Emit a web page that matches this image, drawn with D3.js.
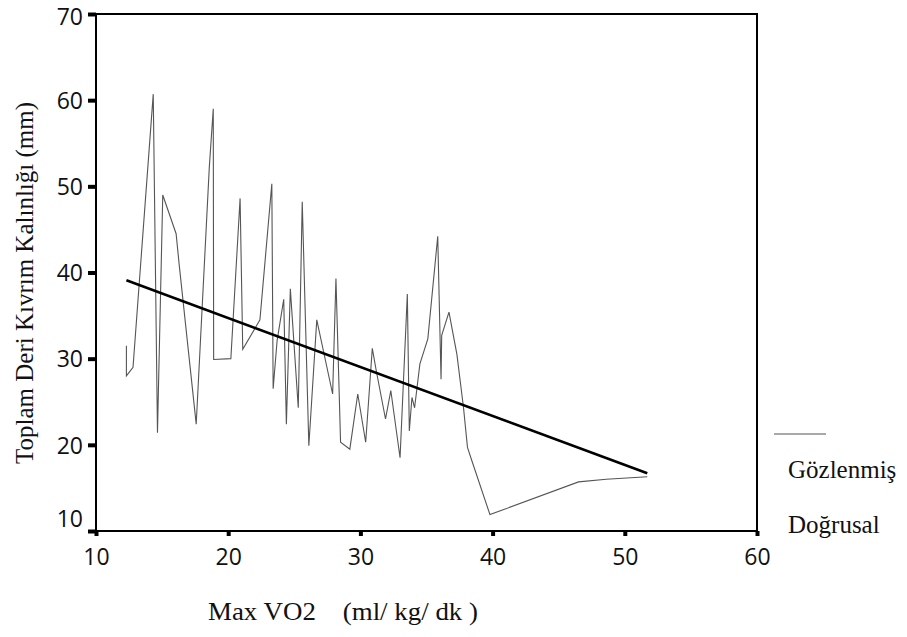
<!DOCTYPE html>
<html lang="tr">
<head>
  <meta charset="UTF-8">
  <title>Max VO2 - Toplam Deri Kıvrım Kalınlığı</title>
  <script src="https://d3js.org/d3.v7.min.js"></script>
  <style>
    body { margin: 0; background: #fff; }
    svg text.tick-label { font-family: "Open Sans", sans-serif; font-size: 23px; fill: #111; }
    svg text.title { font-family: "Liberation Serif", "Times New Roman", serif; font-size: 25px; fill: #111; white-space: pre; }
  </style>
</head>
<body>
  <svg id="chart" width="907" height="637"></svg>

  <script>
    // Gözlenmiş (observed), points in x order
    const obsX = [12.3, 12.3, 12.8, 14.33, 14.65, 15.05, 16.06, 16.3, 17.58, 18.57, 18.87, 18.9, 20.2,
                  20.9, 21.1, 22.4, 23.3, 23.4, 23.7, 24.2, 24.4, 24.7, 25.3, 25.6, 26.1, 26.7, 27.9,
                  28.15, 28.5, 29.2, 29.8, 30.4, 30.9, 31.2, 31.9, 32.3, 33.0, 33.55, 33.7, 33.9, 34.1,
                  34.5, 35.1, 35.85, 36.1, 36.15, 36.7, 37.3, 37.8, 38.1, 38.4, 39.8, 46.5, 48.6, 51.7];
    const obsY = [31.5, 28.0, 29.0, 60.7, 21.4, 49.0, 44.5, 40.8, 22.4, 52.2, 59.0, 29.9, 30.0,
                  48.6, 31.1, 34.5, 50.3, 26.5, 32.1, 36.9, 22.4, 38.1, 24.3, 48.2, 19.9, 34.5, 25.9,
                  39.3, 20.3, 19.5, 25.9, 20.3, 31.2, 28.6, 23.0, 26.3, 18.5, 37.5, 21.6, 25.5, 24.3,
                  29.4, 32.3, 44.2, 27.6, 32.7, 35.4, 30.5, 24.3, 19.7, 18.3, 11.9, 15.7, 16.0, 16.3];

    // Doğrusal (linear fit) endpoints
    const linX = [12.3, 51.7];
    const linY = [39.1, 16.7];

    const xTicks = [10, 20, 30, 40, 50, 60];
    const yTicks = [10, 20, 30, 40, 50, 60, 70];
    const legendLabels = ["Gözlenmiş", "Doğrusal"];

    const svg = d3.select("#chart");
    const margin = { left: 96, top: 14 };
    const width = 661, height = 517;

    const x = d3.scaleLinear().domain([10, 60]).range([margin.left, margin.left + width]);
    const y = d3.scaleLinear().domain([10, 70]).range([margin.top + height, margin.top]);

    // frame
    svg.append("rect")
      .attr("x", x(10)).attr("y", y(70))
      .attr("width", width).attr("height", height)
      .attr("fill", "none").attr("stroke", "#000").attr("stroke-width", 2);

    // x axis
    const xAxis = svg.append("g").attr("transform", `translate(0,${y(10)})`)
      .call(d3.axisBottom(x).tickValues(xTicks).tickSize(5).tickFormat(d3.format("d")));
    xAxis.select(".domain").remove();
    xAxis.selectAll(".tick line").attr("stroke", "#000").attr("stroke-width", 4);
    xAxis.selectAll(".tick text").attr("class", "tick-label").attr("y", 34).attr("dy", null)
      .attr("font-size", null).attr("font-family", null);

    // y axis (bottom label lifted, top label nudged down, as in the scan)
    const yAxis = svg.append("g").attr("transform", `translate(${x(10)},0)`)
      .call(d3.axisLeft(y).tickValues(yTicks).tickSize(8).tickFormat(d3.format("d")));
    yAxis.select(".domain").remove();
    yAxis.selectAll(".tick line").attr("stroke", "#000").attr("stroke-width", 4);
    yAxis.selectAll(".tick text").attr("class", "tick-label").attr("x", -13)
      .attr("dy", d => d === 10 ? "-0.2em" : d === 70 ? "0.45em" : "0.36em")
      .attr("font-size", null).attr("font-family", null);

    // observed line
    const lineGen = d3.line().x(d => x(d[0])).y(d => y(d[1]));
    svg.append("path")
      .datum(d3.zip(obsX, obsY))
      .attr("d", lineGen)
      .attr("fill", "none").attr("stroke", "#555").attr("stroke-width", 1.1);

    // linear fit line
    svg.append("path")
      .datum(d3.zip(linX, linY))
      .attr("d", lineGen)
      .attr("fill", "none").attr("stroke", "#000").attr("stroke-width", 2.6);

    // axis titles
    svg.append("text").attr("class", "title")
      .attr("x", 208).attr("y", 620)
      .attr("textLength", 270).attr("lengthAdjust", "spacingAndGlyphs")
      .text("Max VO2    (ml/ kg/ dk )");

    svg.append("text").attr("class", "title")
      .attr("transform", "translate(33,283) rotate(-90)")
      .attr("text-anchor", "middle")
      .text("Toplam Deri Kıvrım Kalınlığı (mm)");

    // legend
    svg.append("line").attr("x1", 774).attr("x2", 826).attr("y1", 434).attr("y2", 434)
      .attr("stroke", "#555").attr("stroke-width", 1.1);
    svg.selectAll(".legend-text").data(legendLabels).join("text")
      .attr("class", "title legend-text")
      .attr("x", 788).attr("y", (d, i) => 478 + i * 55)
      .text(d => d);
  </script>
</body>
</html>
